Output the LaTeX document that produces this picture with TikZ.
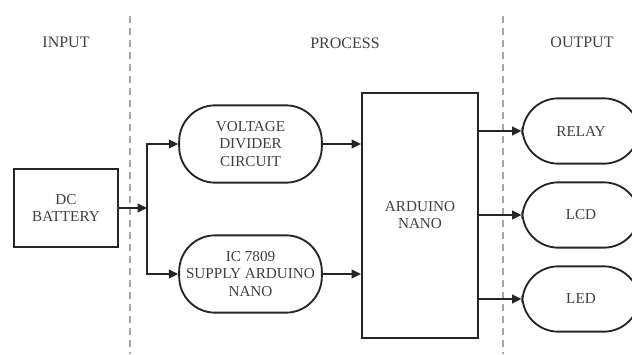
\documentclass[tikz,border=0pt]{standalone}
\usepackage{fontspec}
\setmainfont{Liberation Serif}
\usepackage{tikz}
\usetikzlibrary{arrows.meta,positioning,calc}

\begin{document}
\begin{tikzpicture}[
  x=0.75pt, y=-0.75pt,
  block/.style={draw=black!85, line width=1.4pt, align=center,
    text=black!75, font=\fontsize{11.4}{12.8}\selectfont},
  term/.style={block, rounded corners=27pt, minimum width=107pt},
  head/.style={text=black!75, font=\fontsize{12}{14}\selectfont},
  sep/.style={draw=gray!70, line width=0.8pt, dash pattern=on 5pt off 4pt},
  arr/.style={-{Triangle[length=7pt,width=6.5pt]}, line width=1.4pt, draw=black!85}
]
\clip (0,0) rectangle (632,354);
\useasboundingbox (0,0) rectangle (632,354);

% stage separators
\draw[sep] (130,16) -- (130,354);
\draw[sep] (503,16) -- (503,354);

\node[head] (hin) at (66,42) {INPUT};
\node[head] (hproc) at (345,43) {PROCESS};
\node[head] (hout) at (582,42) {OUTPUT};

\node[block, minimum width=78pt, minimum height=58pt] (batt) at (66,208) {DC\\BATTERY};
\node[term, minimum height=58pt] (vdiv) at (250.5,144) {VOLTAGE\\DIVIDER\\CIRCUIT};
\node[term, minimum height=58pt] (ic) at (250.5,274) {IC 7809\\SUPPLY ARDUINO\\NANO};
\node[block, minimum width=87pt, minimum height=184pt] (nano) at (420,215.5) {ARDUINO\\NANO};
\node[term, minimum width=88pt, minimum height=49pt] (relay) at (581,131) {RELAY};
\node[term, minimum width=88pt, minimum height=49pt] (lcd) at (581,215) {LCD};
\node[term, minimum width=88pt, minimum height=49pt] (led) at (581,299) {LED};

\coordinate (split) at (147,208);

\draw[arr] (batt.east) -- (split);
\draw[arr] (split) |- (vdiv.west);
\draw[arr] (split) |- (ic.west);
\draw[arr] (vdiv.east) -- (vdiv.east -| nano.west);
\draw[arr] (ic.east) -- (ic.east -| nano.west);
\draw[arr] (relay.west -| nano.east) -- (relay.west);
\draw[arr] (lcd.west -| nano.east) -- (lcd.west);
\draw[arr] (led.west -| nano.east) -- (led.west);
\end{tikzpicture}
\end{document}
